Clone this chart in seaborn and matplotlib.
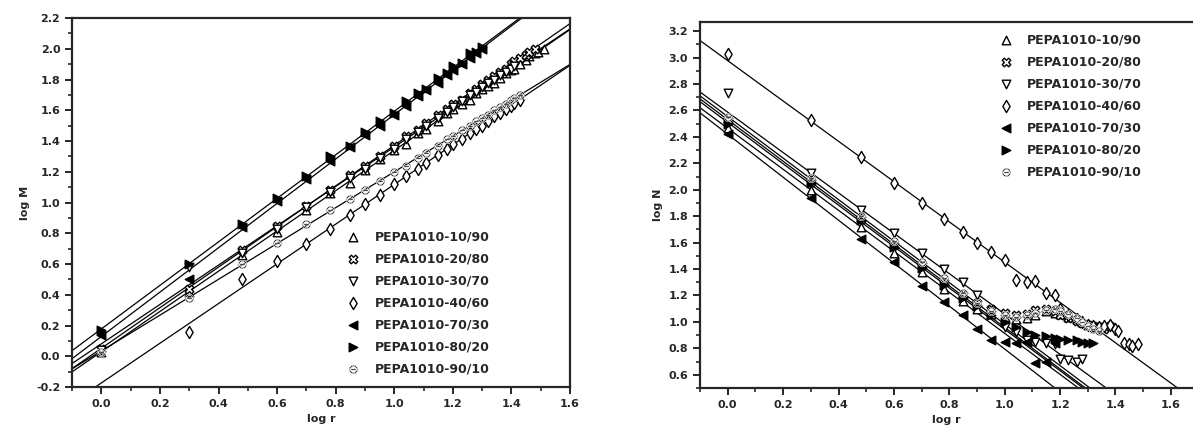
import matplotlib
matplotlib.use("Agg")
import numpy as np
import pandas as pd
import matplotlib.pyplot as plt
from matplotlib.ticker import MultipleLocator
import seaborn as sns

# === Data ===
labels = ["PEPA1010-10/90", "PEPA1010-20/80", "PEPA1010-30/70", "PEPA1010-40/60",
          "PEPA1010-70/30", "PEPA1010-80/20", "PEPA1010-90/10"]

# log r of the measured points (shared grid)
log_r = [0.00, 0.30, 0.48, 0.60, 0.70, 0.78, 0.85, 0.90, 0.95, 1.00, 1.04, 1.08,
         1.11, 1.15, 1.18, 1.20, 1.23, 1.26, 1.28, 1.30, 1.32, 1.34, 1.36, 1.38,
         1.40, 1.41, 1.43, 1.45, 1.46, 1.48, 1.49, 1.51]

# left panel: log M
logM_1090 = [0.03, 0.42, 0.66, 0.81, 0.95, 1.06, 1.13, 1.21, 1.28, 1.34, 1.38, 1.45,
             1.48, 1.53, 1.58, 1.61, 1.64, 1.67, 1.71, 1.74, 1.76, 1.78, 1.81, 1.84,
             1.86, 1.87, 1.90, 1.93, 1.95, 1.97, 1.98, 2.00]
logM_2080 = [0.05, 0.44, 0.69, 0.85, 0.98, 1.08, 1.18, 1.24, 1.30, 1.37, 1.43, 1.47,
             1.52, 1.57, 1.61, 1.64, 1.67, 1.71, 1.74, 1.77, 1.80, 1.82, 1.85, 1.87,
             1.90, 1.92, 1.94, 1.96, 1.98, 2.00]
logM_3070 = [0.04, 0.58, 0.67, 0.83, 0.97, 1.07, 1.16, 1.22, 1.29, 1.35, 1.41, 1.46,
             1.50, 1.55, 1.59, 1.62, 1.66, 1.70, 1.72, 1.75, 1.78, 1.80, 1.83, 1.85,
             1.87, 1.89]
logM_4060 = [0.16, 0.50, 0.62, 0.73, 0.83, 0.92, 0.99, 1.05, 1.12, 1.17, 1.22, 1.26,
             1.31, 1.35, 1.38, 1.41, 1.45, 1.48, 1.50, 1.53, 1.56, 1.58, 1.61, 1.63,
             1.65, 1.67]
logM_4060_start = 1
logM_7030 = [0.14, 0.50, 0.84, 1.01, 1.15, 1.27, 1.36, 1.44, 1.50, 1.57, 1.63, 1.69,
             1.73, 1.78, 1.83, 1.86, 1.90, 1.94, 1.97, 2.00]
logM_8020 = [0.17, 0.60, 0.86, 1.03, 1.17, 1.30, 1.37, 1.46, 1.53, 1.58, 1.66, 1.71,
             1.74, 1.81, 1.84, 1.89, 1.91, 1.97, 1.98, 2.01]
logM_9010 = [0.03, 0.38, 0.60, 0.74, 0.86, 0.95, 1.02, 1.08, 1.14, 1.20, 1.24, 1.29,
             1.32, 1.37, 1.41, 1.43, 1.47, 1.50, 1.53, 1.55, 1.57, 1.60, 1.62, 1.64,
             1.67, 1.68, 1.70]

# right panel: log N
logN_1090 = [2.47, 2.00, 1.72, 1.52, 1.38, 1.25, 1.16, 1.10, 1.06, 1.04, 1.02, 1.03,
             1.05, 1.08, 1.07, 1.06, 1.04, 1.02, 1.00, 0.98]
logN_2080 = [2.53, 2.06, 1.78, 1.58, 1.43, 1.30, 1.20, 1.14, 1.10, 1.07, 1.05, 1.06,
             1.09, 1.10, 1.08, 1.05, 1.03, 1.01, 0.99, 0.98, 0.97, 0.96, 0.95, 0.97]
logN_3070 = [2.73, 2.13, 1.85, 1.67, 1.52, 1.40, 1.30, 1.20, 1.08, 0.96, 0.92, 0.86,
             0.85, 0.84, 0.83, 0.72, 0.71, 0.70, 0.72]
logN_4060 = [3.03, 2.53, 2.25, 2.05, 1.90, 1.78, 1.68, 1.60, 1.53, 1.47, 1.32, 1.30,
             1.31, 1.22, 1.20, 1.10, 1.05, 1.02, 1.00, 0.98, 0.97, 0.96, 0.97, 0.98,
             0.95, 0.93, 0.84, 0.83, 0.82, 0.83]
logN_7030 = [2.42, 1.94, 1.63, 1.45, 1.27, 1.15, 1.05, 0.95, 0.86, 0.85, 0.84, 0.85,
             0.69, 0.70, 0.84]
logN_8020 = [2.50, 2.05, 1.77, 1.57, 1.41, 1.28, 1.18, 1.12, 1.05, 1.00, 0.96, 0.92,
             0.90, 0.89, 0.88, 0.87, 0.86, 0.86, 0.85, 0.84, 0.84]
logN_9010 = [2.55, 2.09, 1.80, 1.61, 1.45, 1.33, 1.22, 1.14, 1.08, 1.05, 1.04, 1.05,
             1.07, 1.09, 1.10, 1.08, 1.06, 1.03, 1.00, 0.97, 0.95, 0.93]
# points (first, last) used for the linear fit in the right panel
logN_fit = [(0, 7), (0, 7), (1, 8), (1, 10), (0, 7), (0, 7), (0, 7)]

# === Style ===
markers = ["^", "X", "v", "d", "<", ">", r"$\ominus$"]
faces = ["white", "white", "white", "white", "black", "black", "black"]

sns.set_style("ticks")
plt.rcParams["font.family"] = ["DejaVu Sans"]
plt.rcParams["font.weight"] = "bold"
plt.rcParams["axes.linewidth"] = 1.6

fig = plt.figure(figsize=(11.93, 4.41), dpi=100)
ax1 = fig.add_axes([0.0604, 0.1224, 0.4174, 0.8367])
ax2 = fig.add_axes([0.5868, 0.1202, 0.4132, 0.8300])


def draw(ax, series, starts, fits):
    for i, ys in enumerate(series):
        xs = log_r[starts[i]:starts[i] + len(ys)]
        df = pd.DataFrame({"x": xs, "y": ys})
        a, b = fits[i] if fits else (0, len(df))
        sns.regplot(data=df.iloc[a:b], x="x", y="y", ax=ax, scatter=False, ci=None,
                    truncate=False, line_kws={"color": "black", "lw": 0.9})
        kw = dict(facecolor=faces[i], edgecolor="black", linewidth=1.0)
        if markers[i].startswith("$"):
            kw = dict(color="black", linewidth=0.4)
        sns.scatterplot(data=df, x="x", y="y", ax=ax, marker=markers[i], s=38,
                        label=labels[i], zorder=3, **kw)


def style_axis(ax, ylabel):
    ax.xaxis.set_major_locator(MultipleLocator(0.2))
    ax.xaxis.set_minor_locator(MultipleLocator(0.1))
    ax.yaxis.set_major_locator(MultipleLocator(0.2))
    ax.yaxis.set_minor_locator(MultipleLocator(0.1))
    ax.tick_params(which="major", direction="out", length=5, width=1.4, labelsize=8)
    ax.tick_params(which="minor", direction="out", length=3, width=1.2)
    ax.xaxis.set_major_formatter(lambda v, p: f"{v:.1f}")
    ax.yaxis.set_major_formatter(lambda v, p: f"{v:.1f}")
    for lab in ax.get_xticklabels() + ax.get_yticklabels():
        lab.set_fontweight("bold")
    ax.set_xlabel("log r", fontsize=8, fontweight="bold")
    ax.set_ylabel(ylabel, fontsize=8, fontweight="bold")


# === Left panel: log M vs log r ===
ax1.set_xlim(-0.1, 1.6)
ax1.set_ylim(-0.2, 2.2)
draw(ax1, [logM_1090, logM_2080, logM_3070, logM_4060, logM_7030, logM_8020, logM_9010],
     [0, 0, 0, logM_4060_start, 0, 0, 0], None)
ax1.set_xlim(-0.1, 1.6)
ax1.set_ylim(-0.2, 2.2)
style_axis(ax1, "log M")
ax1.legend(loc="lower left", bbox_to_anchor=(0.53, 0.0), frameon=False,
           fontsize=9, labelspacing=0.72, handletextpad=1.2, handlelength=1.0)

# === Right panel: log N vs log r ===
ax2.set_xlim(-0.1, 1.68)
ax2.set_ylim(0.5, 3.27)
draw(ax2, [logN_1090, logN_2080, logN_3070, logN_4060, logN_7030, logN_8020, logN_9010],
     [0] * 7, logN_fit)
ax2.set_xlim(-0.1, 1.68)
ax2.set_ylim(0.5, 3.27)
style_axis(ax2, "log N")
ax2.spines["right"].set_visible(False)
ax2.set_yticks(np.arange(0.6, 3.21, 0.2))
ax2.legend(loc="upper left", bbox_to_anchor=(0.585, 1.0), frameon=False,
           fontsize=9, labelspacing=0.72, handletextpad=1.2, handlelength=1.0)

plt.savefig("out.png", dpi=100)
